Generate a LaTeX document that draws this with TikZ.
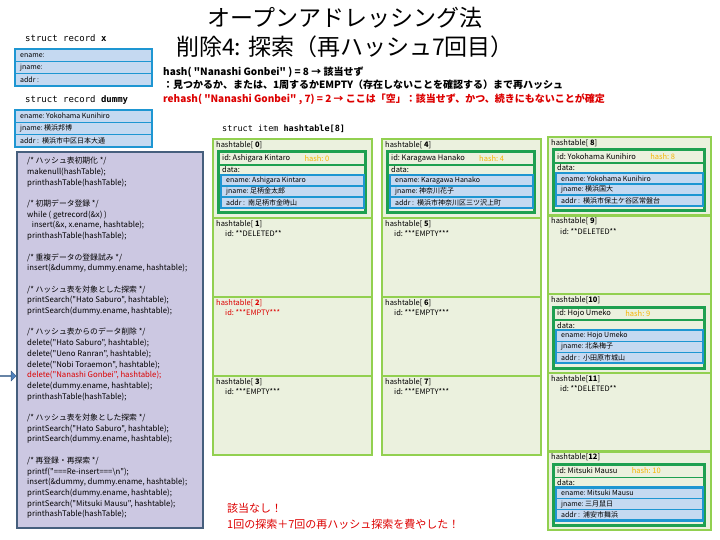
\documentclass[tikz,border=0pt]{standalone}
\usepackage{fontspec}
\setmainfont{Noto Sans CJK JP}
\newfontfamily\jpfont{Noto Sans CJK JP}
\setmonofont{DejaVu Sans Mono}
\usetikzlibrary{positioning,shapes.arrows}

\definecolor{cellgreen}{RGB}{146,208,80}
\definecolor{cellfill}{RGB}{235,241,222}
\definecolor{dkgreen}{RGB}{30,160,80}
\definecolor{recblue}{RGB}{30,150,210}
\definecolor{recfill}{RGB}{197,217,241}
\definecolor{codefill}{RGB}{204,200,226}
\definecolor{codeline}{RGB}{70,95,125}
\definecolor{hashorange}{RGB}{245,180,0}
\definecolor{alertred}{RGB}{220,0,0}
\definecolor{arrowblue}{RGB}{79,129,189}

% index of a slot, padded like the printout
\newcommand{\idx}[1]{\ifnum#1<10\ \fi\textbf{#1}}

% ename / jname / addr rows in a blue frame
\newcommand{\recrows}[8]{%
  \begin{scope}[shift={(#2,#3)}]
    \fill[recfill] (0,0) rectangle (#4,3*#5);
    \draw[recblue, line width=1.2pt] (0,#5) -- (#4,#5) (0,2*#5) -- (#4,2*#5);
    \draw[recblue, line width=2.5pt] (0,0) rectangle (#4,3*#5);
    \node[rectext] (#1-e) at (5,0.5*#5) {ename:\ #6};
    \node[rectext] (#1-j) at (5,1.5*#5) {jname:\ #7};
    \node[rectext] (#1-a) at (5,2.5*#5) {addr\ :\ \ #8};
  \end{scope}}

% slot holding a record
\newcommand{\htrec}[7]{%
  \draw[cellframe] (#2,#3) rectangle ++(\cw,\ch);
  \node[celltext] (c#1) at (#2+3,#3+6) {hashtable[\idx{#1}]};
  \draw[dkframe] (#2+5,#3+13) rectangle (#2+\cw-7,#3+74);
  \draw[dkgreen, line width=1.5pt] (#2+5,#3+26) -- (#2+\cw-7,#3+26);
  \node[celltext] (id#1) at (#2+9,#3+19.5) {id:\ #4};
  \node[celltext, text=hashorange, right=14pt of id#1] (h#1) {hash:\ #5};
  \node[celltext] (d#1) at (#2+9,#3+31) {data:};
  \recrows{r#1}{#2+8}{#3+36}{\cw-16}{11}{#4}{#6}{#7}}

% slot without a record
\newcommand{\htslot}[5]{%
  \draw[cellframe] (#2,#3) rectangle ++(\cw,\ch);
  \node[celltext, text=#5] (c#1) at (#2+3,#3+6) {hashtable[\idx{#1}]};
  \node[celltext, text=#5] (id#1) at (#2+12,#3+16) {id:\ #4};}

\begin{document}
\begin{tikzpicture}[x=1pt, y=-1pt,
    cellframe/.style={draw=cellgreen, line width=2.5pt, fill=cellfill},
    dkframe/.style={draw=dkgreen, line width=3pt, fill=cellfill},
    celltext/.style={anchor=west, inner sep=0pt, font=\jpfont\fontsize{7.5}{9}\selectfont},
    rectext/.style={anchor=west, inner sep=0pt, font=\jpfont\fontsize{7}{8}\selectfont},
    structtext/.style={anchor=west, inner sep=0pt, font=\fontsize{9}{11}\ttfamily},
    hashtext/.style={anchor=west, inner sep=0pt, font=\jpfont\fontsize{10}{12}\selectfont\bfseries},
    titletext/.style={inner sep=0pt, font=\jpfont\fontsize{23}{26}\selectfont},
    codetext/.style={anchor=north west, inner sep=0pt, align=left,
        font=\jpfont\fontsize{7.8}{10.7}\selectfont},
    notetext/.style={anchor=west, inner sep=0pt, align=left, text=alertred,
        font=\jpfont\fontsize{11}{16}\selectfont},
    ptrarrow/.style={single arrow, draw=arrowblue!70!black, fill=arrowblue,
        minimum height=16pt, minimum width=10pt, single arrow head extend=2.5pt,
        inner sep=0pt}]

    \useasboundingbox (0,0) rectangle (720,540);

    % Title
    \node[titletext] (title1) at (345,18) {オープンアドレッシング法};
    \node[titletext] (title2) at (345,47) {削除4: 探索（再ハッシュ7回目）};

    % Hash / rehash result
    \node[hashtext] (hl1) at (163,72) {hash( "Nanashi Gonbei" ) = 8 → 該当せず};
    \node[hashtext] (hl2) at (163,85) {：見つかるか、または、1周するかEMPTY（存在しないことを確認する）まで再ハッシュ};
    \node[hashtext, text=alertred] (hl3) at (163,99) {rehash( "Nanashi Gonbei" , 7) = 2 → ここは「空」：該当せず、かつ、続きにもないことが確定};

    % Records x and dummy
    \node[structtext] (recx) at (25,38) {struct record \textbf{x}};
    \recrows{rx}{15}{49}{137}{12.3}{}{}{}
    \node[structtext] (recd) at (25,100) {struct record \textbf{dummy}};
    \recrows{rd}{15}{110}{137}{12.3}{Yokohama Kunihiro}{横浜邦博}{横浜市中区日本大通}

    % Program
    \draw[fill=codefill, draw=codeline, line width=2pt] (17,152) rectangle (203,528);
    \node[codetext] (code) at (27,157) {%
        /* ハッシュ表初期化 */\\
        makenull(hashTable);\\
        printhashTable(hashTable);\\[10.7pt]
        /* 初期データ登録 */\\
        while ( getrecord(\&x) )\\
        \hspace{0.6em}insert(\&x, x.ename, hashtable);\\
        printhashTable(hashTable);\\[10.7pt]
        /* 重複データの登録試み */\\
        insert(\&dummy, dummy.ename, hashtable);\\[10.7pt]
        /* ハッシュ表を対象とした探索 */\\
        printSearch("Hato Saburo", hashtable);\\
        printSearch(dummy.ename, hashtable);\\[10.7pt]
        /* ハッシュ表からのデータ削除 */\\
        delete("Hato Saburo", hashtable);\\
        delete("Ueno Ranran", hashtable);\\
        delete("Nobi Toraemon", hashtable);\\
        {\color{alertred}delete("Nanashi Gonbei", hashtable);}\\
        delete(dummy.ename, hashtable);\\
        printhashTable(hashTable);\\[10.7pt]
        /* ハッシュ表を対象とした探索 */\\
        printSearch("Hato Saburo", hashtable);\\
        printSearch(dummy.ename, hashtable);\\[10.7pt]
        /* 再登録・再探索 */\\
        printf("===Re-insert===\textbackslash n");\\
        insert(\&dummy, dummy.ename, hashtable);\\
        printSearch(dummy.ename, hashtable);\\
        printSearch("Mitsuki Mausu", hashtable);\\
        printhashTable(hashTable);};

    % Current line
    \node[ptrarrow] (ptr) at (8,376) {};

    % Hash table
    \node[structtext, font=\fontsize{8.5}{10}\ttfamily] (ht) at (222,129) {struct item \textbf{hashtable[8]}};

    \def\cw{159} \def\ch{79}
    \htrec{0}{213}{139}{Ashigara Kintaro}{0}{足柄金太郎}{南足柄市金時山}
    \htslot{1}{213}{218}{**DELETED**}{black}
    \htslot{2}{213}{297}{***EMPTY***}{alertred}
    \htslot{3}{213}{376}{***EMPTY***}{black}

    \htrec{4}{382}{139}{Karagawa Hanako}{4}{神奈川花子}{横浜市神奈川区三ツ沢上町}
    \htslot{5}{382}{218}{***EMPTY***}{black}
    \htslot{6}{382}{297}{***EMPTY***}{black}
    \htslot{7}{382}{376}{***EMPTY***}{black}

    \def\cw{163} \def\ch{78.6}
    \htrec{8}{548}{137}{Yokohama Kunihiro}{8}{横浜国大}{横浜市保土ケ谷区常盤台}
    \htslot{9}{548}{215.6}{**DELETED**}{black}
    \htrec{10}{548}{294.2}{Hojo Umeko}{9}{北条梅子}{小田原市城山}
    \htslot{11}{548}{372.8}{**DELETED**}{black}
    \htrec{12}{548}{451.4}{Mitsuki Mausu}{10}{三月鼠日}{浦安市舞浜}

    % Result
    \node[notetext] (note) at (227,516) {該当なし！\\1回の探索＋7回の再ハッシュ探索を費やした！};

\end{tikzpicture}
\end{document}
